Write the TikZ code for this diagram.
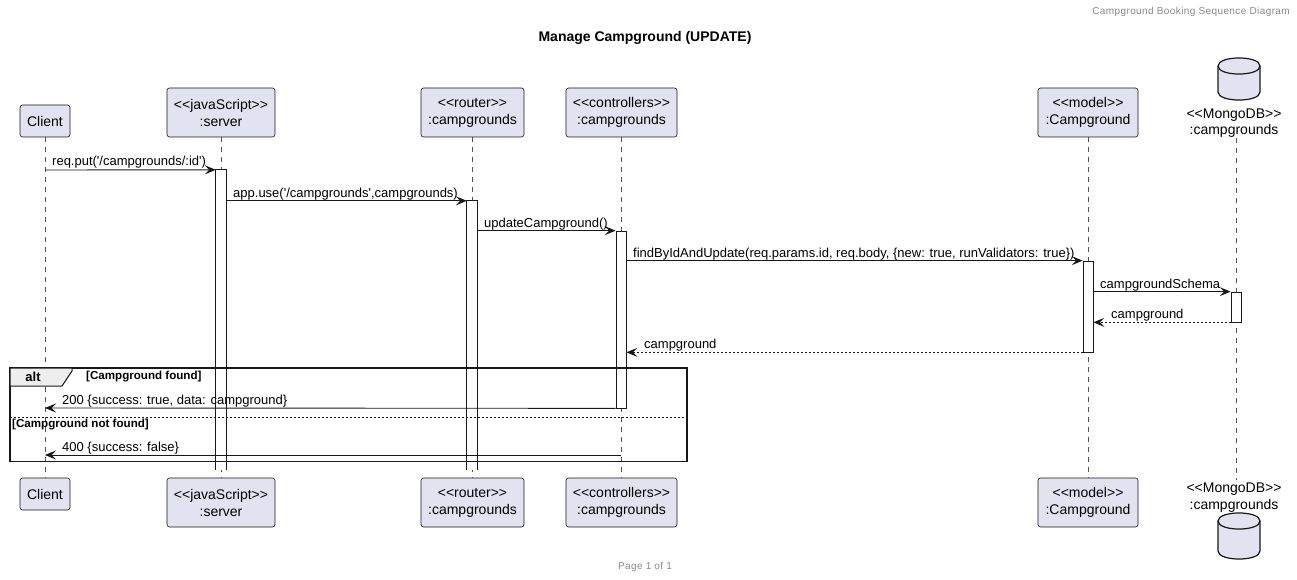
\documentclass[tikz,border=0pt]{standalone}
\usepackage{fontspec}
\setmainfont{Liberation Sans}[Ligatures=TeXOff]
\usetikzlibrary{arrows.meta}
\definecolor{pfill}{HTML}{E2E2F0}
\definecolor{pline}{HTML}{181818}
\definecolor{hdr}{HTML}{888888}
\definecolor{tabfill}{HTML}{EEEEEE}
\begin{document}
\begin{tikzpicture}[x=1pt,y=-1pt,
  part/.style={draw=pline, fill=pfill, rounded corners=2.5pt, line width=0.6pt,
    align=center, font=\fontsize{14}{17}\selectfont, inner sep=0pt},
  dblabel/.style={align=center, font=\fontsize{14}{16.5}\selectfont, inner sep=0pt},
  life/.style={draw=pline!75, line width=0.6pt, dash pattern=on 5pt off 5pt},
  actbar/.style={draw=pline, fill=white, line width=0.7pt, minimum width=10pt, inner sep=0pt},
  openbar/.style={fill=white, minimum width=10pt, inner sep=0pt},
  baredge/.style={draw=pline, line width=0.7pt},
  msg/.style={draw=pline, line width=0.9pt, -{Stealth[length=11pt,width=9pt,inset=4.5pt]}},
  ret/.style={msg, dash pattern=on 2pt off 2pt},
  mlabel/.style={anchor=base west, inner sep=0pt, font=\fontsize{13}{15}\selectfont},
  flabel/.style={inner sep=0pt, font=\bfseries\fontsize{11.6}{13}\selectfont},
  cyl/.style={draw=pline, fill=pfill, line width=1.2pt},
]
\useasboundingbox (0,0) rectangle (1297,580);

% header, title, footer
\node[anchor=east, inner sep=0pt, text=hdr, font=\fontsize{10}{12}\selectfont\addfontfeature{LetterSpace=4}] (hdr) at (1290,12) {Campground Booking Sequence Diagram};
\node[inner sep=0pt, font=\bfseries\fontsize{14}{16}\selectfont] (title) at (645,38) {Manage Campground (UPDATE)};
\node[inner sep=0pt, text=hdr, font=\fontsize{10}{12}\selectfont\addfontfeature{LetterSpace=4}] (foot) at (645,567) {Page 1 of 1};

% top participants
\node[part, minimum width=50pt, minimum height=32pt] (cT) at (45,121) {Client};
\node[part, minimum width=108pt, minimum height=49pt] (sT) at (221,112.5) {<<javaScript>>\\:server};
\node[part, minimum width=103pt, minimum height=49pt] (rT) at (472.5,112.5) {<<router>>\\:campgrounds};
\node[part, minimum width=111pt, minimum height=49pt] (kT) at (621.5,112.5) {<<controllers>>\\:campgrounds};
\node[part, minimum width=100pt, minimum height=49pt] (mT) at (1088,112.5) {<<model>>\\:Campground};
\node[dblabel] (dT) at (1234,123) {<<MongoDB>>\\:campgrounds};
% bottom participants
\node[part, minimum width=50pt, minimum height=32pt] (cB) at (45,494) {Client};
\node[part, minimum width=108pt, minimum height=49pt] (sB) at (221,502.5) {<<javaScript>>\\:server};
\node[part, minimum width=103pt, minimum height=49pt] (rB) at (472.5,502.5) {<<router>>\\:campgrounds};
\node[part, minimum width=111pt, minimum height=49pt] (kB) at (621.5,502.5) {<<controllers>>\\:campgrounds};
\node[part, minimum width=100pt, minimum height=49pt] (mB) at (1088,502.5) {<<model>>\\:Campground};
\node[dblabel] (dB) at (1234,497.5) {<<MongoDB>>\\:campgrounds};

% cylinders (top and bottom database symbols)
\path[cyl] (1218,66) .. controls (1218,55.3) and (1260,55.3) .. (1260,66) -- (1260,92)
  .. controls (1260,102.7) and (1218,102.7) .. (1218,92) -- cycle;
\draw[draw=pline, line width=1.2pt] (1218,66) .. controls (1218,76.7) and (1260,76.7) .. (1260,66);
\path[cyl] (1218,521) .. controls (1218,510.3) and (1260,510.3) .. (1260,521) -- (1260,551)
  .. controls (1260,561.7) and (1218,561.7) .. (1218,551) -- cycle;
\draw[draw=pline, line width=1.2pt] (1218,521) .. controls (1218,531.7) and (1260,531.7) .. (1260,521);

% lifelines
\draw[life] (cT.south) -- (cB.north);
\draw[life] (sT.south) -- (sB.north);
\draw[life] (rT.south) -- (rB.north);
\draw[life] (kT.south) -- (kB.north);
\draw[life] (mT.south) -- (mB.north);
\draw[life] (1236,138) -- (1236,480);

% activation bars
\node[openbar, minimum height=300pt] (sBar) at (221,320) {};
\draw[baredge] (sBar.south west) -- (sBar.north west) -- (sBar.north east) -- (sBar.south east);
\node[openbar, minimum height=269pt] (rBar) at (472,335.5) {};
\draw[baredge] (rBar.south west) -- (rBar.north west) -- (rBar.north east) -- (rBar.south east);
\node[actbar, minimum height=177pt] (kBar) at (621,319.5) {};
\node[actbar, minimum height=91pt] (mBar) at (1088,306.5) {};
\node[actbar, minimum height=30pt] (dBar) at (1236,307) {};

% alt frame
\draw[draw=pline, line width=1.6pt] (10,368) rectangle (687,461.5);
\draw[draw=pline, fill=tabfill, line width=1pt] (10,368) -- (72,368) -- (72,371) -- (62,386) -- (10,386) -- cycle;
\node[inner sep=0pt, font=\bfseries\fontsize{13}{15}\selectfont] (alt) at (33,377) {alt};
\node[flabel, anchor=west] (g1) at (86,377) {[Campground found]};
\draw[draw=pline, line width=0.8pt, dash pattern=on 2pt off 2pt] (10,417) -- (687,417);
\node[flabel, anchor=west] (g2) at (12,425) {[Campground not found]};

% coordinates on lifelines
\coordinate (c1) at (45,170);
\coordinate (c8) at (45,408);
\coordinate (c9) at (45,455);
\coordinate (k9) at (621,455);

% messages
\draw[msg] (c1) -- (sBar.north west);
\node[mlabel] (l1) at (52,166) {req.put('/campgrounds/:id')};
\draw[msg] (sBar.east |- rBar.north) -- (rBar.north west);
\node[mlabel] (l2) at (233,197) {app.use('/campgrounds',campgrounds)};
\draw[msg] (rBar.east |- kBar.north) -- (kBar.north west);
\node[mlabel] (l3) at (484,227) {updateCampground()};
\draw[msg] (kBar.east |- mBar.north) -- (mBar.north west);
\node[mlabel] (l4) at (633,257) {findByIdAndUpdate(req.params.id, req.body, \{new: true, runValidators: true\})};
\draw[msg] (mBar.east |- dBar.north) -- (dBar.north west);
\node[mlabel] (l5) at (1100,288) {campgroundSchema};
\draw[ret] (dBar.south west) -- (mBar.east |- dBar.south);
\node[mlabel] (l6) at (1111,318) {campground};
\draw[ret] (mBar.south west) -- (kBar.east |- mBar.south);
\node[mlabel] (l7) at (644,348) {campground};
\draw[msg] (kBar.south west) -- (c8);
\node[mlabel] (l8) at (62,404) {200 \{success: true, data: campground\}};
\draw[msg] (k9) -- (c9);
\node[mlabel] (l9) at (62,451) {400 \{success: false\}};
\end{tikzpicture}
\end{document}
